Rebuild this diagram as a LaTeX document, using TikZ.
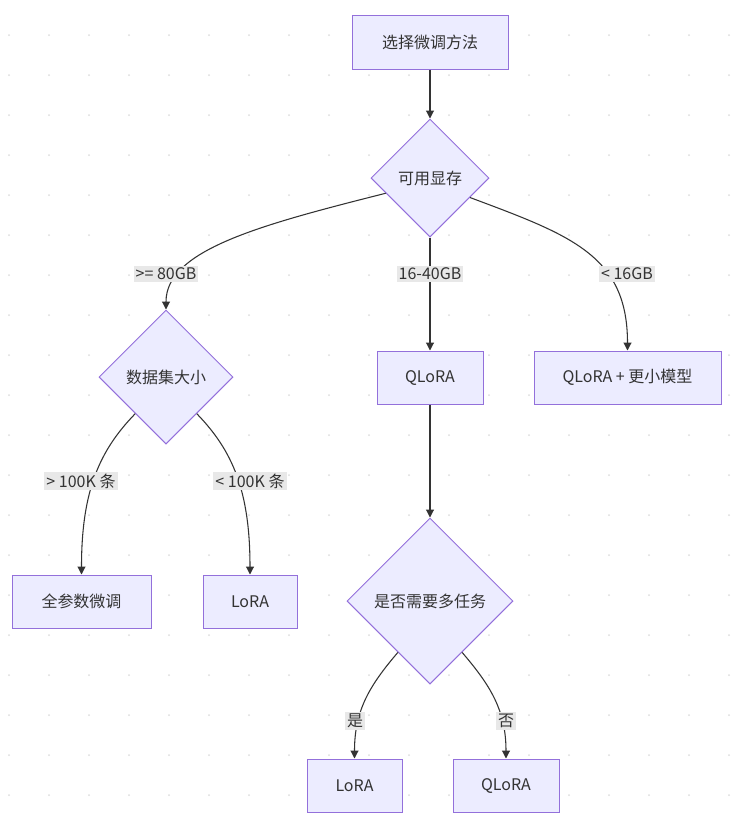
\documentclass[tikz,border=0pt]{standalone}
\usepackage{fontspec}
\setmainfont{Noto Sans CJK SC}
\usetikzlibrary{shapes.geometric,arrows.meta}
\definecolor{nodefill}{HTML}{ECECFF}
\definecolor{nodeline}{HTML}{9370DB}
\definecolor{edgecol}{HTML}{333333}
\definecolor{txt}{HTML}{333333}
\definecolor{lblbg}{HTML}{E8E8E8}
\definecolor{dotcol}{HTML}{DDDDDD}
\begin{document}
\begin{tikzpicture}[x=0.75pt,y=-0.75pt,
 every node/.style={font=\fontsize{12pt}{14pt}\selectfont, text=txt},
 box/.style={draw=nodeline, fill=nodefill, line width=0.75pt, rectangle, inner sep=0pt, minimum height=39.75pt},
 dia/.style={draw=nodeline, fill=nodefill, line width=0.75pt, diamond, inner sep=0pt, aspect=1},
 edge/.style={draw=edgecol, line width=0.8pt, -{Triangle[length=6pt,width=6pt]}},
 lbl/.style={fill=lblbg, inner sep=1.5pt}
]
\useasboundingbox (0,0) rectangle (741,826);
\fill[white] (0,0) rectangle (741,826);
\foreach \i in {0,...,18} \foreach \j in {0,...,19} \fill[dotcol] ({9+40*\i},{35+40*\j}) circle (0.75pt);

\node[box, minimum width=117pt, minimum height=40.5pt] (start) at (430,42) {选择微调方法};
\node[dia, minimum size=88.5pt] (avail) at (430,178) {可用显存};
\node[dia, minimum size=100.5pt] (ds) at (166,377) {数据集大小};
\node[box, minimum width=79.5pt] (q1) at (430,377.5) {QLoRA};
\node[box, minimum width=140.25pt] (q2) at (627.5,377.5) {QLoRA + 更小模型};
\node[box, minimum width=104.25pt] (full) at (81.5,601.5) {全参数微调};
\node[box, minimum width=70.5pt] (lora1) at (250,601.5) {LoRA};
\node[dia, minimum size=124.5pt] (multi) at (430,601) {是否需要多任务};
\node[box, minimum width=71.25pt] (lora2) at (354.5,785.5) {LoRA};
\node[box, minimum width=79.5pt] (q3) at (506,785.5) {QLoRA};

\draw[edge] (start.south) -- (avail.north);
\draw[edge] (avail.199) .. controls (260,225) and (166,250) .. (ds.north);
\draw[edge] (avail.south) -- (q1.north);
\draw[edge] (avail.334) .. controls (570,235) and (627.5,255) .. (q2.north);
\draw[edge] (ds.230) .. controls (100,450) and (81.5,490) .. (full.north);
\draw[edge] (ds.310) .. controls (232,450) and (250,490) .. (lora1.north);
\draw[edge] (q1.south) -- (multi.north);
\draw[edge] (multi.238) .. controls (370,685) and (354.5,710) .. (lora2.north);
\draw[edge] (multi.302) .. controls (490,685) and (506,710) .. (q3.north);

\node[lbl] (l1) at (166,274) {>= 80GB};
\node[lbl] (l2) at (430,274) {16-40GB};
\node[lbl] (l3) at (627,274) {< 16GB};
\node[lbl] (l4) at (81,481) {> 100K 条};
\node[lbl] (l5) at (250,481) {< 100K 条};
\node[lbl] (l6) at (355,721) {是};
\node[lbl] (l7) at (506,721) {否};
\end{tikzpicture}
\end{document}
